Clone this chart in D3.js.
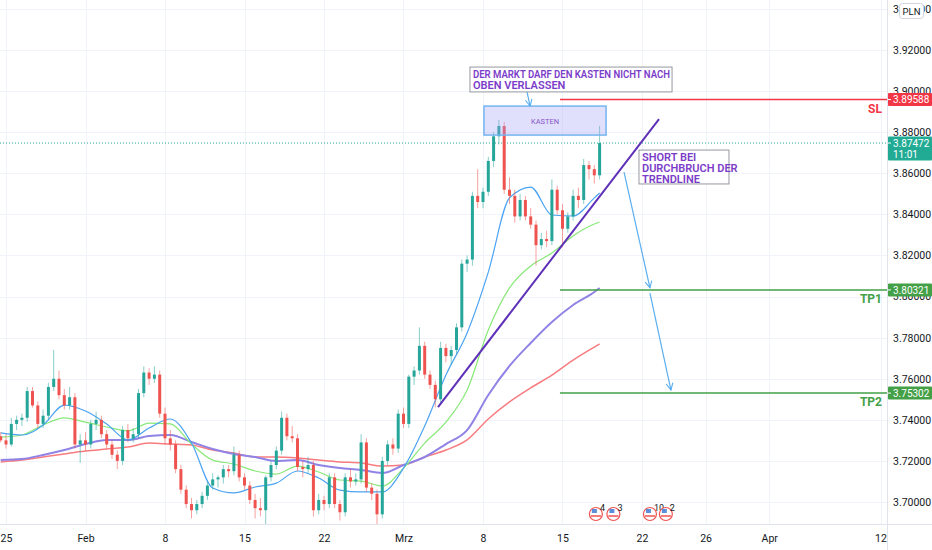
<!DOCTYPE html>
<html>
<head>
<meta charset="utf-8">
<script src="https://cdn.jsdelivr.net/npm/d3@7"></script>
<style>
  html, body { margin: 0; padding: 0; background: #fff; }
  svg { display: block; font-family: Roboto, "Liberation Sans", sans-serif; }
</style>
</head>
<body>
<div id="wrapper"></div>
<script>
// 1. Data (4h-ish candles merged to 8h, one row = [open, high, low, close])
const candles = [
  [3.732,3.734,3.729,3.730],[3.730,3.733,3.726,3.728],[3.728,3.741,3.727,3.738],[3.738,3.742,3.735,3.740],
  [3.740,3.743,3.737,3.741],[3.741,3.756,3.739,3.754],[3.754,3.756,3.746,3.747],[3.747,3.749,3.736,3.738],
  [3.738,3.745,3.736,3.742],[3.742,3.758,3.740,3.756],[3.756,3.774,3.754,3.760],[3.760,3.764,3.750,3.752],
  [3.752,3.755,3.745,3.747],[3.747,3.756,3.745,3.751],[3.751,3.753,3.726,3.728],[3.728,3.733,3.719,3.730],
  [3.730,3.734,3.725,3.728],[3.728,3.740,3.726,3.738],[3.738,3.744,3.735,3.740],[3.740,3.742,3.731,3.733],
  [3.733,3.735,3.726,3.728],[3.728,3.730,3.721,3.723],[3.723,3.725,3.716,3.720],[3.720,3.737,3.718,3.735],
  [3.735,3.738,3.729,3.731],[3.731,3.736,3.729,3.733],[3.733,3.755,3.731,3.753],[3.753,3.766,3.751,3.763],
  [3.763,3.765,3.757,3.760],[3.760,3.766,3.758,3.762],[3.762,3.764,3.741,3.743],[3.743,3.746,3.728,3.731],
  [3.731,3.735,3.725,3.728],[3.728,3.730,3.714,3.716],[3.716,3.718,3.704,3.706],[3.706,3.708,3.697,3.699],
  [3.699,3.702,3.692,3.696],[3.696,3.701,3.694,3.699],[3.699,3.705,3.697,3.703],[3.703,3.710,3.701,3.708],
  [3.708,3.714,3.706,3.711],[3.711,3.713,3.707,3.712],[3.712,3.718,3.709,3.716],[3.716,3.718,3.712,3.715],
  [3.715,3.727,3.713,3.723],[3.723,3.725,3.710,3.712],[3.712,3.714,3.706,3.708],[3.708,3.710,3.699,3.701],
  [3.701,3.704,3.692,3.697],[3.697,3.702,3.693,3.696],[3.696,3.713,3.688,3.712],[3.712,3.720,3.710,3.718],
  [3.718,3.727,3.716,3.725],[3.725,3.744,3.723,3.741],[3.741,3.743,3.730,3.732],[3.732,3.737,3.729,3.731],
  [3.731,3.733,3.715,3.717],[3.717,3.720,3.712,3.716],[3.716,3.722,3.714,3.718],[3.718,3.720,3.693,3.696],
  [3.696,3.704,3.694,3.701],[3.701,3.703,3.696,3.699],[3.699,3.714,3.697,3.712],[3.712,3.714,3.697,3.699],
  [3.699,3.701,3.691,3.695],[3.695,3.714,3.693,3.712],[3.712,3.716,3.707,3.710],[3.710,3.714,3.708,3.711],
  [3.711,3.733,3.709,3.729],[3.729,3.731,3.705,3.707],[3.707,3.709,3.701,3.704],[3.704,3.706,3.687,3.694],
  [3.694,3.722,3.692,3.720],[3.720,3.730,3.718,3.728],[3.728,3.731,3.723,3.726],[3.726,3.745,3.724,3.743],
  [3.743,3.746,3.736,3.738],[3.738,3.762,3.736,3.761],[3.761,3.766,3.757,3.764],[3.764,3.785,3.762,3.776],
  [3.776,3.778,3.760,3.762],[3.762,3.764,3.755,3.757],[3.757,3.759,3.746,3.750],[3.750,3.778,3.748,3.775],
  [3.775,3.777,3.768,3.771],[3.771,3.776,3.767,3.774],[3.774,3.787,3.772,3.785],[3.785,3.818,3.783,3.816],
  [3.816,3.820,3.812,3.818],[3.818,3.851,3.815,3.849],[3.849,3.862,3.843,3.846],[3.846,3.853,3.843,3.851],
  [3.851,3.868,3.849,3.866],[3.866,3.880,3.863,3.878],[3.878,3.886,3.874,3.883],[3.883,3.885,3.850,3.852],
  [3.852,3.858,3.845,3.849],[3.849,3.852,3.836,3.839],[3.839,3.850,3.837,3.847],[3.847,3.849,3.837,3.839],
  [3.839,3.843,3.833,3.835],[3.835,3.837,3.815,3.825],[3.825,3.831,3.823,3.828],[3.828,3.832,3.824,3.827],
  [3.827,3.857,3.825,3.852],[3.852,3.854,3.840,3.842],[3.842,3.845,3.824,3.833],[3.833,3.841,3.831,3.839],
  [3.839,3.852,3.837,3.849],[3.849,3.853,3.843,3.847],[3.847,3.867,3.845,3.864],[3.864,3.866,3.857,3.862],
  [3.862,3.864,3.855,3.859],[3.859,3.883,3.857,3.8747]
]
const candleStart = -1/3      // trading day of the first candle
const candleStep = 1/3        // three candles per trading day

// moving averages, read at these candle indices
const maIndex = [0,4,8,12,16,20,24,28,32,36,40,44,48,52,56,60,64,68,72,76,80,84,88,92,96,100,104,108,112,113]
const maBlue = [3.7336,3.7326,3.7375,3.7472,3.7443,3.7380,3.7302,3.7360,3.7404,3.7287,3.7068,3.7044,3.7073,3.7092,3.7151,
  3.7117,3.7058,3.7049,3.7049,3.7165,3.7370,3.7618,3.7823,3.8119,3.8480,3.8533,3.8397,3.8392,3.8480,3.8504]
const maGreen = [3.7316,3.7326,3.7375,3.7409,3.7389,3.7365,3.7346,3.7384,3.7380,3.7282,3.7204,3.7185,3.7151,3.7136,3.7175,
  3.7146,3.7107,3.7102,3.7078,3.7165,3.7287,3.7389,3.7545,3.7837,3.8042,3.8149,3.8212,3.8295,3.8353,3.8363]
const maPurple = [3.7204,3.7209,3.7229,3.7253,3.7282,3.7302,3.7302,3.7321,3.7326,3.7292,3.7258,3.7234,3.7219,3.7200,3.7204,
  3.7180,3.7165,3.7156,3.7141,3.7180,3.7219,3.7282,3.7350,3.7521,3.7662,3.7774,3.7876,3.7959,3.8022,3.8042]
const maRed = [3.7195,3.7204,3.7219,3.7234,3.7248,3.7258,3.7268,3.7287,3.7282,3.7277,3.7253,3.7238,3.7219,3.7219,3.7214,
  3.7204,3.7195,3.7190,3.7175,3.7180,3.7219,3.7253,3.7302,3.7404,3.7487,3.7555,3.7618,3.7691,3.7754,3.7769]

// time axis: trading-day position of each label
const xTickDays = [0, 5, 10, 15, 20, 25, 30, 35, 40, 44, 48, 55]
const xTickLabels = ["25", "Feb", "8", "15", "22", "Mrz", "8", "15", "22", "26", "Apr", "12"]
const priceTicks = [3.70, 3.72, 3.74, 3.76, 3.78, 3.80, 3.82, 3.84, 3.86, 3.88, 3.90, 3.92, 3.94]

const lastPrice = 3.87472
const lastTime = "11:01"
const levels = [
  {name: "SL", price: 3.89588, color: "#f23645"},
  {name: "TP1", price: 3.80321, color: "#43a047"},
  {name: "TP2", price: 3.75302, color: "#43a047"},
]
const levelStartDay = 34.84

const boxKasten = {d0: 30.06, d1: 37.74, p0: 3.8927, p1: 3.8786, text: "KASTEN"}
const noteTop = {d0: 29.18, d1: 41.89, p0: 3.9117, p1: 3.8996,
  lines: ["DER MARKT DARF DEN KASTEN NICHT NACH", "OBEN VERLASSEN"]}
const noteShort = {d0: 39.81, d1: 45.47, p0: 3.8713, p1: 3.8548,
  lines: ["SHORT BEI", "DURCHBRUCH DER", "TRENDLINE"]}
const trendLine = [[27.17, 3.7462], [41.07, 3.8864]]
const arrows = [
  [[32.77, 3.8996], [32.96, 3.8927]],
  [[38.87, 3.8606], [40.50, 3.8042]],
  [[40.50, 3.8017], [41.82, 3.7545]],
]
const events = [
  {day: 37.1, label: "4"}, {day: 38.2, label: "3"},
  {day: 40.5, label: "10"}, {day: 41.5, label: "2"},
]

// 2. Dimensions
const dimensions = {
  width: 932,
  height: 550,
  plotRight: 887,
  plotBottom: 524,
}

// 3. Canvas
const svg = d3.select("#wrapper").append("svg")
  .attr("width", dimensions.width)
  .attr("height", dimensions.height)

svg.append("defs").append("clipPath").attr("id", "plotClip")
  .append("rect").attr("x", 0).attr("y", 0)
  .attr("width", dimensions.plotRight).attr("height", dimensions.plotBottom)

svg.append("defs").append("marker")
  .attr("id", "arrowHead").attr("viewBox", "0 0 10 10")
  .attr("refX", 9).attr("refY", 5)
  .attr("markerWidth", 7).attr("markerHeight", 7)
  .attr("orient", "auto-start-reverse")
  .append("path").attr("d", "M1,1 L9,5 L1,9")
  .attr("fill", "none").attr("stroke", "#5aaef0").attr("stroke-width", 1.3)

// 4. Scales
const xScale = d3.scaleLinear().domain([0, 55]).range([6, 880.5])
const yScale = d3.scaleLinear().domain([3.70, 3.92]).range([502, 50])
const dayOf = i => candleStart + i * candleStep

// 5. Grid
const grid = svg.append("g").attr("clip-path", "url(#plotClip)")
grid.selectAll(".hgrid").data(priceTicks).join("line")
  .attr("x1", 0).attr("x2", dimensions.plotRight)
  .attr("y1", d => Math.round(yScale(d)) + 0.5).attr("y2", d => Math.round(yScale(d)) + 0.5)
  .attr("stroke", "#f0f3fa")
grid.selectAll(".vgrid").data(xTickDays).join("line")
  .attr("y1", 0).attr("y2", dimensions.plotBottom)
  .attr("x1", d => Math.round(xScale(d)) + 0.5).attr("x2", d => Math.round(xScale(d)) + 0.5)
  .attr("stroke", "#f0f3fa")

const plot = svg.append("g").attr("clip-path", "url(#plotClip)")

// last price dotted line
plot.append("line")
  .attr("x1", 0).attr("x2", dimensions.plotRight)
  .attr("y1", yScale(lastPrice)).attr("y2", yScale(lastPrice))
  .attr("stroke", "#26a69a").attr("stroke-width", 1)
  .attr("stroke-dasharray", "1,2")

// 6. Moving averages
const maLine = values => d3.line()
  .x((d, i) => xScale(dayOf(maIndex[i])))
  .y(d => yScale(d))
  .curve(d3.curveMonotoneX)(values)

plot.append("path").attr("d", maLine(maRed))
  .attr("fill", "none").attr("stroke", "#f77c80").attr("stroke-width", 1.5)
plot.append("path").attr("d", maLine(maPurple))
  .attr("fill", "none").attr("stroke", "#9083e6").attr("stroke-width", 2)
plot.append("path").attr("d", maLine(maGreen))
  .attr("fill", "none").attr("stroke", "#88e878").attr("stroke-width", 1.2)
plot.append("path").attr("d", maLine(maBlue))
  .attr("fill", "none").attr("stroke", "#4ba3f2").attr("stroke-width", 1.2)

// 7. Candles
const up = "#26a69a", down = "#ef5350"
const candleG = plot.append("g")
candleG.selectAll(".wick").data(candles).join("line")
  .attr("x1", (d, i) => xScale(dayOf(i))).attr("x2", (d, i) => xScale(dayOf(i)))
  .attr("y1", d => yScale(d[1])).attr("y2", d => yScale(d[2]))
  .attr("stroke", d => d[3] >= d[0] ? up : down)
  .attr("stroke-opacity", 0.55).attr("stroke-width", 1)
candleG.selectAll(".body").data(candles).join("rect")
  .attr("x", (d, i) => xScale(dayOf(i)) - 1.5)
  .attr("width", 3)
  .attr("y", d => yScale(Math.max(d[0], d[3])))
  .attr("height", d => Math.max(1, Math.abs(yScale(d[0]) - yScale(d[3]))))
  .attr("fill", d => d[3] >= d[0] ? up : down)

// 8. Drawings
const ann = svg.append("g").attr("clip-path", "url(#plotClip)")

// box
ann.append("rect")
  .attr("x", xScale(boxKasten.d0)).attr("y", yScale(boxKasten.p0))
  .attr("width", xScale(boxKasten.d1) - xScale(boxKasten.d0))
  .attr("height", yScale(boxKasten.p1) - yScale(boxKasten.p0))
  .attr("fill", "rgba(160,160,250,0.32)")
  .attr("stroke", "#74b4f0").attr("stroke-width", 1.5)
ann.append("text")
  .attr("x", (xScale(boxKasten.d0) + xScale(boxKasten.d1)) / 2)
  .attr("y", (yScale(boxKasten.p0) + yScale(boxKasten.p1)) / 2 + 3)
  .attr("text-anchor", "middle").attr("font-size", 7.5)
  .attr("fill", "#8a54c6").text(boxKasten.text)

// levels
levels.forEach(l => {
  ann.append("line")
    .attr("x1", xScale(levelStartDay)).attr("x2", dimensions.plotRight)
    .attr("y1", yScale(l.price)).attr("y2", yScale(l.price))
    .attr("stroke", l.color).attr("stroke-width", 1.6)
  ann.append("text")
    .attr("x", dimensions.plotRight - 5).attr("y", yScale(l.price) + 13)
    .attr("text-anchor", "end").attr("font-size", 12).attr("font-weight", "bold")
    .attr("fill", l.color).text(l.name)
})

// trendline
ann.append("line")
  .attr("x1", xScale(trendLine[0][0])).attr("y1", yScale(trendLine[0][1]))
  .attr("x2", xScale(trendLine[1][0])).attr("y2", yScale(trendLine[1][1]))
  .attr("stroke", "#5e30b8").attr("stroke-width", 2)

// arrows
arrows.forEach(a => {
  ann.append("line")
    .attr("x1", xScale(a[0][0])).attr("y1", yScale(a[0][1]))
    .attr("x2", xScale(a[1][0])).attr("y2", yScale(a[1][1]))
    .attr("stroke", "#5aaef0").attr("stroke-width", 1.2)
    .attr("marker-end", "url(#arrowHead)")
})

// text notes
const note = (n, fitWidth) => {
  const x0 = xScale(n.d0), x1 = xScale(n.d1)
  const y0 = yScale(n.p0), y1 = yScale(n.p1)
  ann.append("rect")
    .attr("x", x0).attr("y", y0).attr("width", x1 - x0).attr("height", y1 - y0)
    .attr("fill", "rgba(255,255,255,0.85)").attr("stroke", "#9598a1").attr("stroke-width", 1)
  n.lines.forEach((t, i) => {
    const txt = ann.append("text")
      .attr("x", x0 + 3).attr("y", y0 + 10.5 + i * 11)
      .attr("font-size", 11).attr("font-weight", 600)
      .attr("fill", "#7b3cc9").text(t)
    if (fitWidth && i === 0) txt.attr("textLength", fitWidth).attr("lengthAdjust", "spacingAndGlyphs")
  })
}
note(noteTop, 197)
note(noteShort, 0)

// events near the time axis
const ev = svg.append("g")
events.forEach(e => {
  const cx = xScale(e.day)
  ev.append("circle").attr("cx", cx).attr("cy", 514).attr("r", 6.5)
    .attr("fill", "#fff").attr("stroke", "#ef5350").attr("stroke-width", 1.2)
  ev.append("rect").attr("x", cx - 4).attr("y", 509).attr("width", 5).attr("height", 4)
    .attr("fill", "#5d8fd8")
  ev.append("line").attr("x1", cx - 5).attr("x2", cx + 5).attr("y1", 516).attr("y2", 516)
    .attr("stroke", "#ef5350").attr("stroke-width", 1.5)
  ev.append("text").attr("x", cx + 4).attr("y", 511).attr("font-size", 9)
    .attr("fill", "#131722").text(e.label)
})

// 9. Axes
svg.append("line")
  .attr("x1", dimensions.plotRight + 0.5).attr("x2", dimensions.plotRight + 0.5)
  .attr("y1", 0).attr("y2", dimensions.height)
  .attr("stroke", "#e0e3eb")
svg.append("line")
  .attr("x1", 0).attr("x2", dimensions.width)
  .attr("y1", dimensions.plotBottom + 0.5).attr("y2", dimensions.plotBottom + 0.5)
  .attr("stroke", "#e0e3eb")

const yAxisGenerator = d3.axisRight(yScale)
  .tickValues(priceTicks)
  .tickSize(0)
  .tickPadding(6)
  .tickFormat(d3.format(".5f"))
const yAxis = svg.append("g")
  .attr("transform", `translate(${dimensions.plotRight}, 0)`)
  .call(yAxisGenerator)
yAxis.select(".domain").remove()
yAxis.selectAll("text").attr("font-size", 10.5).attr("fill", "#131722")
  .attr("font-family", "Roboto, 'Liberation Sans', sans-serif")

const xAxisGenerator = d3.axisBottom(xScale)
  .tickValues(xTickDays)
  .tickSize(0)
  .tickPadding(11)
  .tickFormat((d, i) => xTickLabels[i])
const xAxis = svg.append("g")
  .attr("transform", `translate(0, ${dimensions.plotBottom})`)
  .call(xAxisGenerator)
xAxis.select(".domain").remove()
xAxis.selectAll("text").attr("font-size", 10.5).attr("fill", "#131722")
  .attr("font-family", "Roboto, 'Liberation Sans', sans-serif")

// price tags
const tag = (price, color, lines) => {
  const y = yScale(price)
  const h = lines.length * 11 + 2
  svg.append("rect").attr("x", dimensions.plotRight + 1).attr("y", y - 6.5)
    .attr("width", dimensions.width - dimensions.plotRight - 1).attr("height", h)
    .attr("fill", color).attr("rx", 1)
  svg.append("line").attr("x1", dimensions.plotRight + 1).attr("x2", dimensions.plotRight + 4)
    .attr("y1", y).attr("y2", y).attr("stroke", "#fff")
  lines.forEach((t, i) => {
    svg.append("text").attr("x", dimensions.plotRight + 6).attr("y", y + 3.8 + i * 11)
      .attr("font-size", 10).attr("fill", "#fff").text(t)
  })
}
levels.forEach(l => tag(l.price, l.color, [d3.format(".5f")(l.price)]))
tag(lastPrice, "#22ab94", [d3.format(".5f")(lastPrice), lastTime])

// currency badge
svg.append("rect").attr("x", 899.5).attr("y", 3.5).attr("width", 24).attr("height", 15)
  .attr("rx", 3).attr("fill", "#fff").attr("stroke", "#d1d4dc")
svg.append("text").attr("x", 911.5).attr("y", 14.5).attr("text-anchor", "middle")
  .attr("font-size", 9.5).attr("fill", "#131722").text("PLN")
</script>
</body>
</html>
